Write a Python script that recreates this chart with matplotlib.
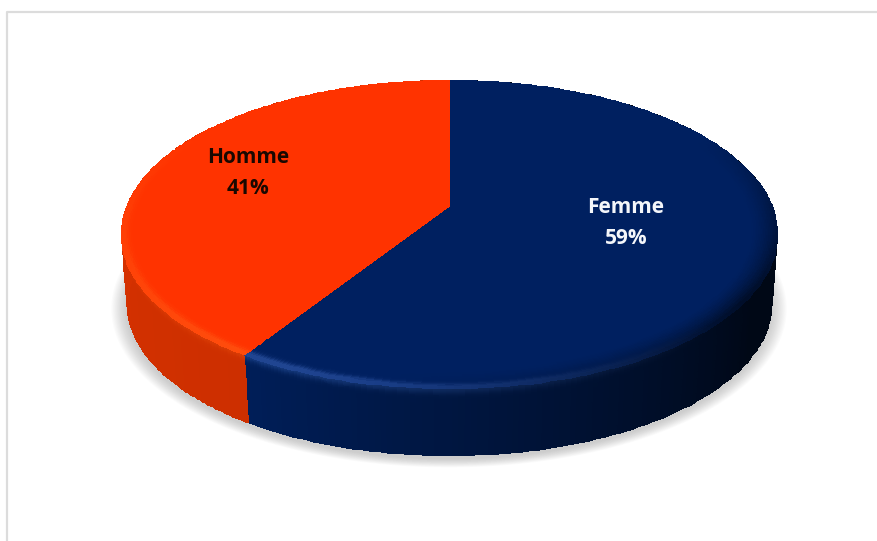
import numpy as np
import matplotlib
matplotlib.use('Agg')
import matplotlib.pyplot as plt
from matplotlib.patches import Polygon

plt.rcParams['font.family'] = ['Open Sans', 'DejaVu Sans']

# shares, clockwise from twelve o'clock
labels = ['Femme', 'Homme']
shares = [59, 41]
text_colors = ['#f4f6fa', '#1a0800']
label_pos = [(626, 223), (248, 173)]
face_colors = [np.array([0, 32, 96]) / 255, np.array([255, 51, 0]) / 255]
side_colors = [np.array([0, 30, 88]) / 255, np.array([218, 50, 0]) / 255]

# pie geometry in pixels
cx, cy = 449, 205
depth = 69
taper = 0.018
persp = 0.188
a_x, a_y = 322, 148.5


def project(theta, r=1.0):
    # flat disc seen in perspective, theta in radians clockwise from the back
    u = r * np.sin(theta)
    v = r * np.cos(theta)
    w = 1 + persp * v
    return cx + a_x * u / w, cy - a_y * v / w


def highlight(theta):
    # ridge light is strongest at the front left and fades round to the right
    deg = np.degrees(theta)
    rise = np.clip((deg - 135) / 70, 0, 1)
    fall = np.clip((300 - deg) / 85, 0, 1)
    return rise * fall


def darkening(theta):
    # the lower right of the pie falls into shade
    deg = np.degrees(theta)
    return np.clip(1 - np.abs(deg - 125) / 65, 0, 1)


def wedge_face(ax, t0, t1, color):
    t = np.linspace(t0, t1, 181)
    r = np.concatenate([[0.0, 0.88], np.linspace(0.90, 1.0, 21)])
    T, R = np.meshgrid(t, r)
    X, Y = project(T, R)
    tm = 0.5 * (T[:-1, :-1] + T[:-1, 1:])
    rm = 0.5 * (R[:-1, :-1] + R[1:, :-1])
    rim = np.clip((rm - 0.92) / 0.08, 0, 1)[..., None]
    dark = darkening(tm)[..., None]
    light = highlight(tm)[..., None]
    C = color * (1 - 0.6 * dark * rim ** 1.5)
    ridge = np.exp(-((rm - 0.995) / 0.014) ** 2)[..., None]
    glow = np.array([0.13, 0.15, 0.20]) if color[2] > 0.1 else np.array([0.0, 0.10, 0.05])
    C = C + glow * light * ridge
    ax.pcolormesh(X, Y, np.clip(C, 0, 1), edgecolors='face', linewidth=0.5, zorder=3)


def wedge_side(ax, t0, t1, color):
    t = np.linspace(t0, t1, 241)
    d = np.concatenate([np.linspace(0, 12, 13), np.linspace(16, depth, 8)])
    T, D = np.meshgrid(t, d)
    X, Y = project(T)
    # the wall tapers slightly towards the bottom edge
    X = cx + (X - cx) * (1 - taper * D / depth)
    Y = cy + (Y - cy) * (1 - taper * D / depth) + D * 1.02
    tm = 0.5 * (T[:-1, :-1] + T[:-1, 1:])
    dm = 0.5 * (D[:-1, :-1] + D[1:, :-1])
    deg = np.degrees(tm)
    # wall gets darker towards the right hand side
    if color[2] > 0.1:
        shade = 1 - 0.75 * np.clip((212 - deg) / 90, 0, 1)
    else:
        shade = 0.94 + 0.04 * np.clip((deg - 212) / 60, 0, 1)
    C = color * shade[..., None]
    ridge = np.exp(-((dm - 1) / 5.0) ** 2)[..., None]
    light = highlight(tm)[..., None]
    glow = np.array([0.08, 0.11, 0.16]) if color[2] > 0.1 else np.array([0.05, 0.05, 0.02])
    C = C + glow * light * ridge
    ax.pcolormesh(X, Y, np.clip(C, 0, 1), edgecolors='face', linewidth=0.5, zorder=2)


fig = plt.figure(figsize=(8.77, 5.41), dpi=100)
ax = fig.add_axes([0, 0, 1, 1])
ax.set_xlim(0, 877)
ax.set_ylim(541, 0)
ax.axis('off')

# chart frame, only the top and left edges are in view
ax.plot([7, 7, 877], [541, 12, 12], color='#dcdcdc', lw=1.6, zorder=1)

# soft shadow under the disc
t = np.linspace(0, 2 * np.pi, 361)
for grow in np.linspace(1.03, 0.985, 14):
    sx, sy = project(t)
    sx = cx + (sx - cx) * grow
    sy = cy + (sy - cy) * grow + depth + 5
    ax.add_patch(Polygon(np.column_stack([sx, sy]), closed=True, fc='#808080',
                         ec='none', alpha=0.03, zorder=1.5))

starts = np.concatenate([[0], np.cumsum(shares)[:-1]]) / sum(shares) * 2 * np.pi
ends = np.cumsum(shares) / sum(shares) * 2 * np.pi
for t0, t1, fc, sc in zip(starts, ends, face_colors, side_colors):
    wedge_side(ax, t0, t1, sc)
for t0, t1, fc, sc in zip(starts, ends, face_colors, side_colors):
    wedge_face(ax, t0, t1, fc)

for name, share, col, (x, y) in zip(labels, shares, text_colors, label_pos):
    ax.text(x, y, f'{name}\n{share}%', color=col, fontsize=15, fontweight='bold',
            ha='center', va='center', linespacing=1.6, zorder=5)

fig.savefig('out.png', dpi=100)
